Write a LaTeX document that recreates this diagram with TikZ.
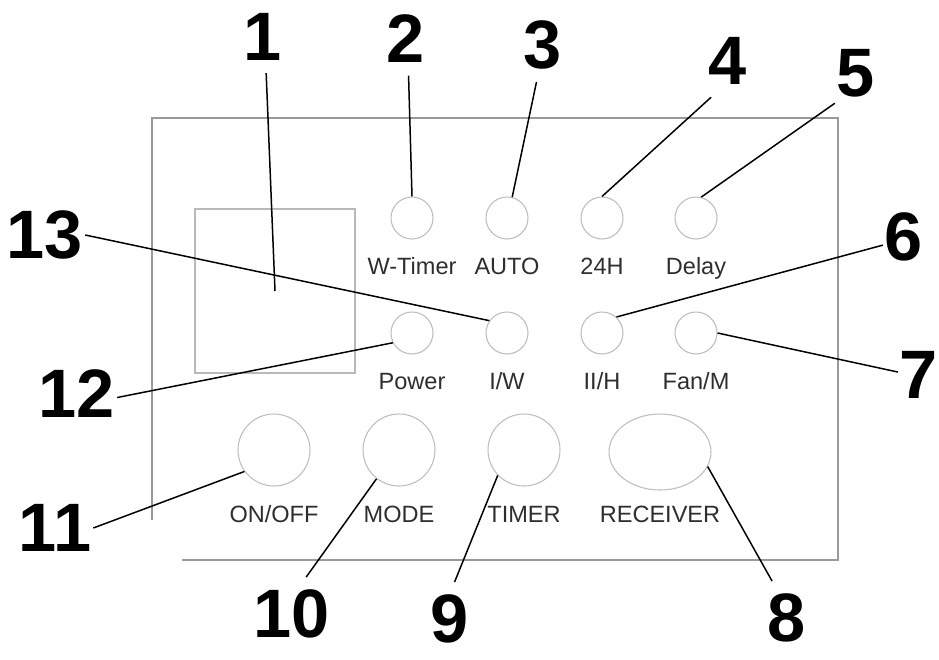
\documentclass[tikz,border=0pt]{standalone}
\usepackage{fontspec}
\setmainfont{Liberation Sans}
\usetikzlibrary{positioning,shapes.geometric}
\definecolor{panelgray}{HTML}{9A9A9A}
\definecolor{ringgray}{HTML}{BDBDBD}
\definecolor{textgray}{HTML}{2E2E2E}

\begin{document}
\begin{tikzpicture}[x=0.02cm, y=-0.02cm,
    num/.style={font=\fontsize{39}{39}\selectfont\bfseries, inner xsep=1pt, inner ysep=7pt},
    btn/.style={draw=ringgray, line width=0.6pt, circle, inner sep=0pt, minimum size=0.84cm},
    bigbtn/.style={btn, minimum size=1.44cm},
    lbl/.style={font=\fontsize{13.4}{14}\selectfont, text=textgray, inner sep=0pt,
                text height=0.72em, text depth=0.21em},
    lead/.style={line width=0.85pt}]
  \useasboundingbox (0,0) rectangle (939,659);

  % housing and display window
  \draw[panelgray, line width=1.4pt] (152,520) -- (152,118) -- (838,118) -- (838,560) -- (182,560);
  \node[draw=gray!55, line width=0.6pt, inner sep=0pt,
        minimum width=3.2cm, minimum height=3.28cm] (disp) at (275,291) {};

  % buttons and lamps
  \node[btn]    (wt)    at (412, 218) {};
  \node[btn]    (auto)  at (507, 218) {};
  \node[btn]    (h24)   at (602, 218) {};
  \node[btn]    (delay) at (696, 218) {};
  \node[btn]    (power) at (412, 333) {};
  \node[btn]    (iw)    at (507, 333) {};
  \node[btn]    (iih)   at (602, 333) {};
  \node[btn]    (fan)   at (696, 333) {};
  \node[bigbtn] (onoff) at (274, 450) {};
  \node[bigbtn] (mode)  at (399, 450) {};
  \node[bigbtn] (timer) at (524, 450) {};
  \node[btn, ellipse, minimum width=2.04cm, minimum height=1.52cm] (recv) at (660, 452) {};

  % captions
  \node[lbl, below=0.43cm of wt]    (wt-l)    {W-Timer};
  \node[lbl, below=0.43cm of auto]  (auto-l)  {AUTO};
  \node[lbl, below=0.43cm of h24]   (h24-l)   {24H};
  \node[lbl, below=0.43cm of delay] (delay-l) {Delay};
  \node[lbl, below=0.43cm of power] (power-l) {Power};
  \node[lbl, below=0.43cm of iw]    (iw-l)    {I/W};
  \node[lbl, below=0.43cm of iih]   (iih-l)   {II/H};
  \node[lbl, below=0.43cm of fan]   (fan-l)   {Fan/M};
  \node[lbl, below=0.46cm of onoff] (onoff-l) {ON/OFF};
  \node[lbl, below=0.46cm of mode]  (mode-l)  {MODE};
  \node[lbl, below=0.46cm of timer] (timer-l) {TIMER};
  \node[lbl, below=0.38cm of recv]  (recv-l)  {RECEIVER};

  % reference numbers
  \node[num] (n1)  at (263,  37) {1};
  \node[num] (n2)  at (406,  39) {2};
  \node[num] (n3)  at (543,  45) {3};
  \node[num] (n4)  at (728,  61) {4};
  \node[num] (n5)  at (856,  73) {5};
  \node[num] (n6)  at (904, 237) {6};
  \node[num] (n7)  at (919, 375) {7};
  \node[num] (n8)  at (787, 618) {8};
  \node[num] (n9)  at (450, 619) {9};
  \node[num] (n10) at (292, 614) {10};
  \node[num] (n11) at ( 55, 528) {11};
  \node[num] (n12) at ( 77, 394) {12};
  \node[num] (n13) at ( 45, 235) {13};

  % leaders
  \draw[lead] (n1.-85)   -- (disp.center);
  \draw[lead] (n2.-86)   -- (wt.north);
  \draw[lead] (n3.-100)  -- (auto.76);
  \draw[lead] (n4.-115)  -- (h24.north);
  \draw[lead] (n5.-125)  -- (delay.76);
  \draw[lead] (n6.201)   -- (iih.48);
  \draw[lead] (n7.172)   -- (fan.east);
  \draw[lead] (n8.112)   -- (recv.-17);
  \draw[lead] (n9.83)    -- (timer.224);
  \draw[lead] (n10.69)   -- (mode.232);
  \draw[lead] (n11.east) -- (onoff.216);
  \draw[lead] (n12.-5)   -- (power.207);
  \draw[lead] (n13.east) -- (iw.145);

\end{tikzpicture}
\end{document}
